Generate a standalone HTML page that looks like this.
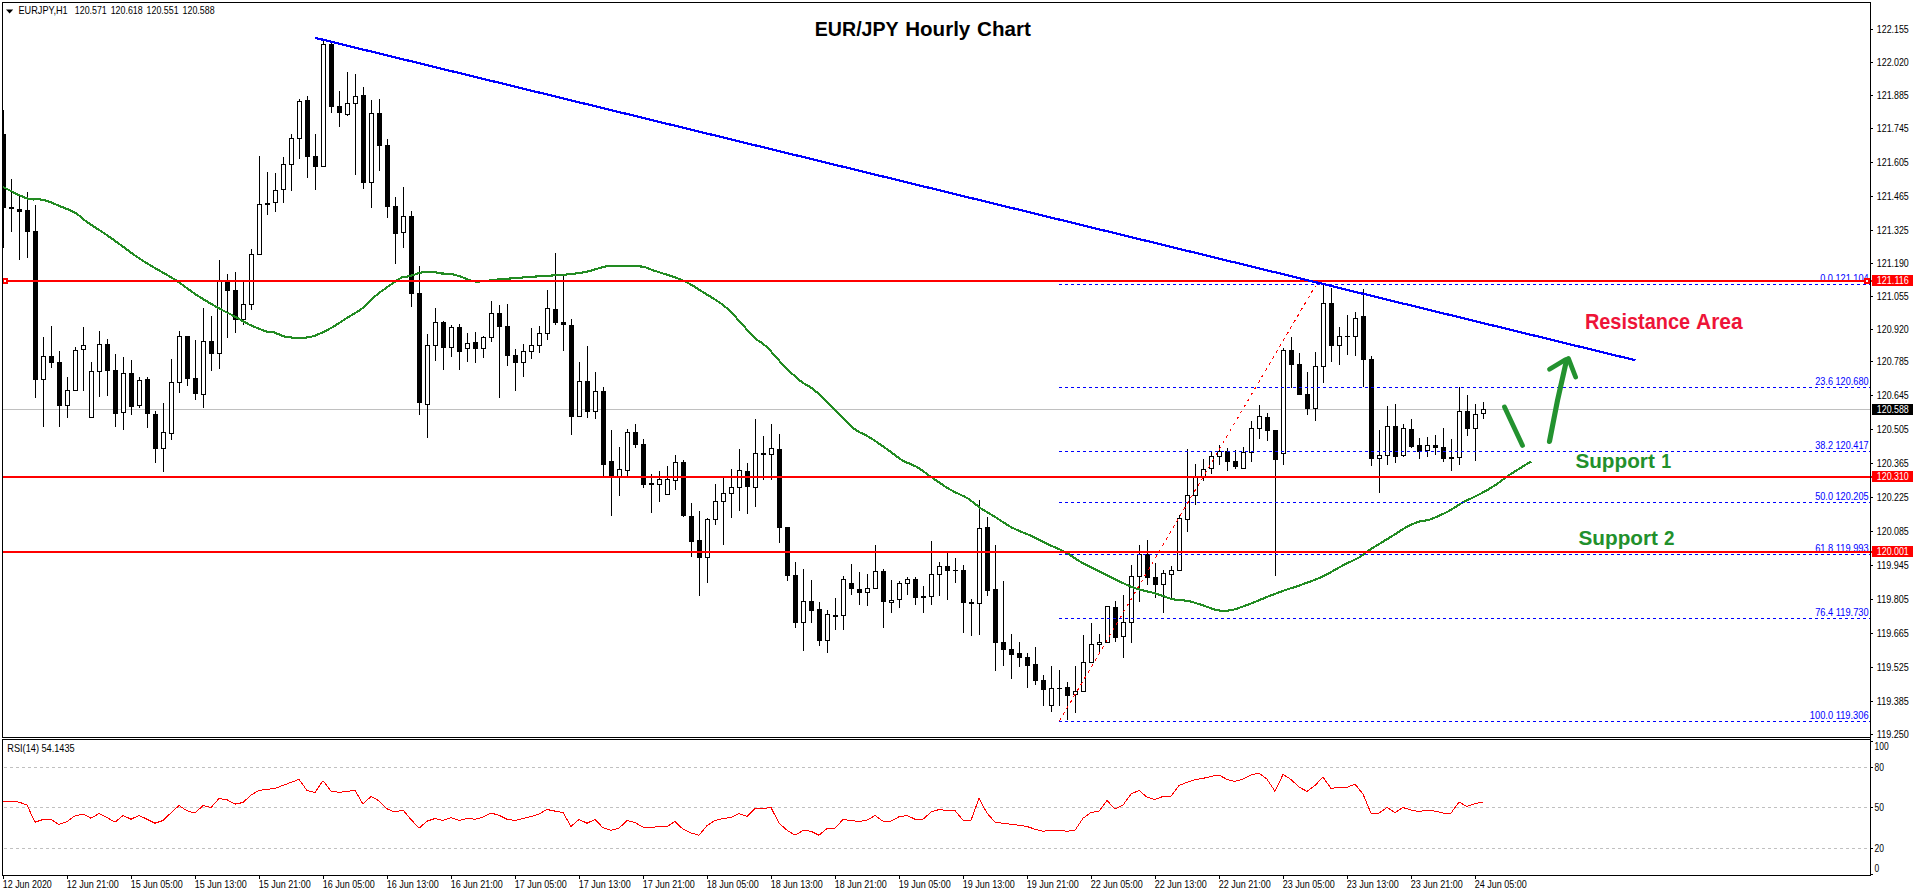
<!DOCTYPE html><html><head><meta charset="utf-8"><title>EUR/JPY Hourly Chart</title>
<style>html,body{margin:0;padding:0;background:#fff;}body{width:1916px;height:896px;overflow:hidden;}svg{display:block;}text{font-family:"Liberation Sans",sans-serif;}</style></head><body>
<svg width="1916" height="896" viewBox="0 0 1916 896">
<rect x="0" y="0" width="1916" height="896" fill="#fff"/>
<clipPath id="cp"><rect x="3" y="3" width="1867" height="734"/></clipPath>
<rect x="3" y="409" width="1867" height="1" fill="#c0c0c0" shape-rendering="crispEdges"/>
<g shape-rendering="crispEdges" clip-path="url(#cp)">
<rect x="3" y="110" width="1" height="138" fill="#000"/>
<rect x="1" y="134" width="5" height="74" fill="#000"/>
<rect x="11" y="179" width="1" height="53" fill="#000"/>
<rect x="9" y="207" width="5" height="2" fill="#000"/>
<rect x="19" y="195" width="1" height="65" fill="#000"/>
<rect x="17" y="209" width="5" height="3" fill="#000"/>
<rect x="27" y="192" width="1" height="66" fill="#000"/>
<rect x="25" y="210" width="5" height="22" fill="#000"/>
<rect x="35" y="205" width="1" height="193" fill="#000"/>
<rect x="33" y="231" width="5" height="149" fill="#000"/>
<rect x="43" y="337" width="1" height="90" fill="#000"/>
<rect x="41" y="356" width="5" height="24" fill="#000"/>
<rect x="42" y="357" width="3" height="22" fill="#fff"/>
<rect x="51" y="326" width="1" height="42" fill="#000"/>
<rect x="49" y="356" width="5" height="7" fill="#000"/>
<rect x="59" y="351" width="1" height="76" fill="#000"/>
<rect x="57" y="362" width="5" height="44" fill="#000"/>
<rect x="67" y="377" width="1" height="41" fill="#000"/>
<rect x="65" y="390" width="5" height="16" fill="#000"/>
<rect x="66" y="391" width="3" height="14" fill="#fff"/>
<rect x="75" y="347" width="1" height="44" fill="#000"/>
<rect x="73" y="350" width="5" height="41" fill="#000"/>
<rect x="74" y="351" width="3" height="39" fill="#fff"/>
<rect x="83" y="327" width="1" height="64" fill="#000"/>
<rect x="81" y="345" width="5" height="5" fill="#000"/>
<rect x="82" y="346" width="3" height="3" fill="#fff"/>
<rect x="91" y="362" width="1" height="56" fill="#000"/>
<rect x="89" y="371" width="5" height="47" fill="#000"/>
<rect x="90" y="372" width="3" height="45" fill="#fff"/>
<rect x="99" y="331" width="1" height="66" fill="#000"/>
<rect x="97" y="344" width="5" height="28" fill="#000"/>
<rect x="98" y="345" width="3" height="26" fill="#fff"/>
<rect x="107" y="339" width="1" height="57" fill="#000"/>
<rect x="105" y="344" width="5" height="27" fill="#000"/>
<rect x="115" y="354" width="1" height="73" fill="#000"/>
<rect x="113" y="370" width="5" height="44" fill="#000"/>
<rect x="123" y="357" width="1" height="73" fill="#000"/>
<rect x="121" y="373" width="5" height="40" fill="#000"/>
<rect x="122" y="374" width="3" height="38" fill="#fff"/>
<rect x="131" y="360" width="1" height="55" fill="#000"/>
<rect x="129" y="373" width="5" height="34" fill="#000"/>
<rect x="139" y="377" width="1" height="31" fill="#000"/>
<rect x="137" y="380" width="5" height="26" fill="#000"/>
<rect x="138" y="381" width="3" height="24" fill="#fff"/>
<rect x="147" y="377" width="1" height="51" fill="#000"/>
<rect x="145" y="379" width="5" height="35" fill="#000"/>
<rect x="155" y="411" width="1" height="52" fill="#000"/>
<rect x="153" y="414" width="5" height="35" fill="#000"/>
<rect x="163" y="403" width="1" height="69" fill="#000"/>
<rect x="161" y="432" width="5" height="17" fill="#000"/>
<rect x="162" y="433" width="3" height="15" fill="#fff"/>
<rect x="171" y="359" width="1" height="81" fill="#000"/>
<rect x="169" y="382" width="5" height="52" fill="#000"/>
<rect x="170" y="383" width="3" height="50" fill="#fff"/>
<rect x="179" y="331" width="1" height="62" fill="#000"/>
<rect x="177" y="336" width="5" height="47" fill="#000"/>
<rect x="178" y="337" width="3" height="45" fill="#fff"/>
<rect x="187" y="336" width="1" height="50" fill="#000"/>
<rect x="185" y="336" width="5" height="43" fill="#000"/>
<rect x="195" y="340" width="1" height="60" fill="#000"/>
<rect x="193" y="378" width="5" height="16" fill="#000"/>
<rect x="203" y="308" width="1" height="100" fill="#000"/>
<rect x="201" y="341" width="5" height="54" fill="#000"/>
<rect x="202" y="342" width="3" height="52" fill="#fff"/>
<rect x="211" y="316" width="1" height="55" fill="#000"/>
<rect x="209" y="341" width="5" height="13" fill="#000"/>
<rect x="219" y="260" width="1" height="109" fill="#000"/>
<rect x="217" y="281" width="5" height="73" fill="#000"/>
<rect x="218" y="282" width="3" height="71" fill="#fff"/>
<rect x="227" y="274" width="1" height="64" fill="#000"/>
<rect x="225" y="281" width="5" height="10" fill="#000"/>
<rect x="235" y="272" width="1" height="61" fill="#000"/>
<rect x="233" y="290" width="5" height="30" fill="#000"/>
<rect x="243" y="281" width="1" height="44" fill="#000"/>
<rect x="241" y="304" width="5" height="16" fill="#000"/>
<rect x="242" y="305" width="3" height="14" fill="#fff"/>
<rect x="251" y="249" width="1" height="61" fill="#000"/>
<rect x="249" y="254" width="5" height="51" fill="#000"/>
<rect x="250" y="255" width="3" height="49" fill="#fff"/>
<rect x="259" y="156" width="1" height="99" fill="#000"/>
<rect x="257" y="204" width="5" height="51" fill="#000"/>
<rect x="258" y="205" width="3" height="49" fill="#fff"/>
<rect x="267" y="172" width="1" height="43" fill="#000"/>
<rect x="265" y="203" width="5" height="2" fill="#000"/>
<rect x="275" y="173" width="1" height="39" fill="#000"/>
<rect x="273" y="190" width="5" height="13" fill="#000"/>
<rect x="274" y="191" width="3" height="11" fill="#fff"/>
<rect x="283" y="157" width="1" height="46" fill="#000"/>
<rect x="281" y="164" width="5" height="26" fill="#000"/>
<rect x="282" y="165" width="3" height="24" fill="#fff"/>
<rect x="291" y="134" width="1" height="57" fill="#000"/>
<rect x="289" y="138" width="5" height="27" fill="#000"/>
<rect x="290" y="139" width="3" height="25" fill="#fff"/>
<rect x="299" y="99" width="1" height="60" fill="#000"/>
<rect x="297" y="101" width="5" height="38" fill="#000"/>
<rect x="298" y="102" width="3" height="36" fill="#fff"/>
<rect x="307" y="96" width="1" height="82" fill="#000"/>
<rect x="305" y="100" width="5" height="57" fill="#000"/>
<rect x="315" y="134" width="1" height="56" fill="#000"/>
<rect x="313" y="156" width="5" height="11" fill="#000"/>
<rect x="323" y="40" width="1" height="127" fill="#000"/>
<rect x="321" y="44" width="5" height="123" fill="#000"/>
<rect x="322" y="45" width="3" height="121" fill="#fff"/>
<rect x="331" y="42" width="1" height="71" fill="#000"/>
<rect x="329" y="44" width="5" height="63" fill="#000"/>
<rect x="339" y="91" width="1" height="36" fill="#000"/>
<rect x="337" y="106" width="5" height="7" fill="#000"/>
<rect x="347" y="72" width="1" height="44" fill="#000"/>
<rect x="345" y="103" width="5" height="12" fill="#000"/>
<rect x="346" y="104" width="3" height="10" fill="#fff"/>
<rect x="355" y="74" width="1" height="101" fill="#000"/>
<rect x="353" y="96" width="5" height="8" fill="#000"/>
<rect x="354" y="97" width="3" height="6" fill="#fff"/>
<rect x="363" y="87" width="1" height="102" fill="#000"/>
<rect x="361" y="95" width="5" height="88" fill="#000"/>
<rect x="371" y="100" width="1" height="108" fill="#000"/>
<rect x="369" y="113" width="5" height="70" fill="#000"/>
<rect x="370" y="114" width="3" height="68" fill="#fff"/>
<rect x="379" y="99" width="1" height="72" fill="#000"/>
<rect x="377" y="113" width="5" height="33" fill="#000"/>
<rect x="387" y="139" width="1" height="79" fill="#000"/>
<rect x="385" y="145" width="5" height="62" fill="#000"/>
<rect x="395" y="197" width="1" height="67" fill="#000"/>
<rect x="393" y="206" width="5" height="28" fill="#000"/>
<rect x="403" y="187" width="1" height="61" fill="#000"/>
<rect x="401" y="216" width="5" height="17" fill="#000"/>
<rect x="402" y="217" width="3" height="15" fill="#fff"/>
<rect x="411" y="211" width="1" height="96" fill="#000"/>
<rect x="409" y="216" width="5" height="78" fill="#000"/>
<rect x="419" y="266" width="1" height="149" fill="#000"/>
<rect x="417" y="293" width="5" height="110" fill="#000"/>
<rect x="427" y="334" width="1" height="104" fill="#000"/>
<rect x="425" y="345" width="5" height="60" fill="#000"/>
<rect x="426" y="346" width="3" height="58" fill="#fff"/>
<rect x="435" y="308" width="1" height="53" fill="#000"/>
<rect x="433" y="322" width="5" height="24" fill="#000"/>
<rect x="434" y="323" width="3" height="22" fill="#fff"/>
<rect x="443" y="321" width="1" height="49" fill="#000"/>
<rect x="441" y="322" width="5" height="26" fill="#000"/>
<rect x="451" y="325" width="1" height="32" fill="#000"/>
<rect x="449" y="327" width="5" height="21" fill="#000"/>
<rect x="450" y="328" width="3" height="19" fill="#fff"/>
<rect x="459" y="324" width="1" height="46" fill="#000"/>
<rect x="457" y="327" width="5" height="25" fill="#000"/>
<rect x="467" y="333" width="1" height="29" fill="#000"/>
<rect x="465" y="343" width="5" height="6" fill="#000"/>
<rect x="466" y="344" width="3" height="4" fill="#fff"/>
<rect x="475" y="332" width="1" height="31" fill="#000"/>
<rect x="473" y="342" width="5" height="7" fill="#000"/>
<rect x="483" y="336" width="1" height="22" fill="#000"/>
<rect x="481" y="337" width="5" height="12" fill="#000"/>
<rect x="482" y="338" width="3" height="10" fill="#fff"/>
<rect x="491" y="301" width="1" height="41" fill="#000"/>
<rect x="489" y="313" width="5" height="25" fill="#000"/>
<rect x="490" y="314" width="3" height="23" fill="#fff"/>
<rect x="499" y="305" width="1" height="93" fill="#000"/>
<rect x="497" y="313" width="5" height="14" fill="#000"/>
<rect x="507" y="304" width="1" height="62" fill="#000"/>
<rect x="505" y="326" width="5" height="30" fill="#000"/>
<rect x="515" y="349" width="1" height="42" fill="#000"/>
<rect x="513" y="355" width="5" height="8" fill="#000"/>
<rect x="523" y="344" width="1" height="33" fill="#000"/>
<rect x="521" y="351" width="5" height="12" fill="#000"/>
<rect x="522" y="352" width="3" height="10" fill="#fff"/>
<rect x="531" y="328" width="1" height="31" fill="#000"/>
<rect x="529" y="345" width="5" height="7" fill="#000"/>
<rect x="530" y="346" width="3" height="5" fill="#fff"/>
<rect x="539" y="326" width="1" height="27" fill="#000"/>
<rect x="537" y="333" width="5" height="13" fill="#000"/>
<rect x="538" y="334" width="3" height="11" fill="#fff"/>
<rect x="547" y="290" width="1" height="50" fill="#000"/>
<rect x="545" y="308" width="5" height="26" fill="#000"/>
<rect x="546" y="309" width="3" height="24" fill="#fff"/>
<rect x="555" y="253" width="1" height="72" fill="#000"/>
<rect x="553" y="309" width="5" height="14" fill="#000"/>
<rect x="563" y="276" width="1" height="75" fill="#000"/>
<rect x="561" y="322" width="5" height="3" fill="#000"/>
<rect x="571" y="319" width="1" height="116" fill="#000"/>
<rect x="569" y="325" width="5" height="92" fill="#000"/>
<rect x="579" y="362" width="1" height="55" fill="#000"/>
<rect x="577" y="381" width="5" height="36" fill="#000"/>
<rect x="578" y="382" width="3" height="34" fill="#fff"/>
<rect x="587" y="346" width="1" height="72" fill="#000"/>
<rect x="585" y="381" width="5" height="31" fill="#000"/>
<rect x="595" y="372" width="1" height="47" fill="#000"/>
<rect x="593" y="391" width="5" height="21" fill="#000"/>
<rect x="594" y="392" width="3" height="19" fill="#fff"/>
<rect x="603" y="387" width="1" height="91" fill="#000"/>
<rect x="601" y="391" width="5" height="74" fill="#000"/>
<rect x="611" y="430" width="1" height="86" fill="#000"/>
<rect x="609" y="461" width="5" height="16" fill="#000"/>
<rect x="619" y="447" width="1" height="49" fill="#000"/>
<rect x="617" y="469" width="5" height="8" fill="#000"/>
<rect x="618" y="470" width="3" height="6" fill="#fff"/>
<rect x="627" y="429" width="1" height="48" fill="#000"/>
<rect x="625" y="432" width="5" height="39" fill="#000"/>
<rect x="626" y="433" width="3" height="37" fill="#fff"/>
<rect x="635" y="424" width="1" height="24" fill="#000"/>
<rect x="633" y="432" width="5" height="13" fill="#000"/>
<rect x="643" y="439" width="1" height="49" fill="#000"/>
<rect x="641" y="444" width="5" height="41" fill="#000"/>
<rect x="651" y="474" width="1" height="39" fill="#000"/>
<rect x="649" y="483" width="5" height="2" fill="#000"/>
<rect x="659" y="471" width="1" height="31" fill="#000"/>
<rect x="657" y="479" width="5" height="6" fill="#000"/>
<rect x="658" y="480" width="3" height="4" fill="#fff"/>
<rect x="667" y="466" width="1" height="29" fill="#000"/>
<rect x="665" y="479" width="5" height="16" fill="#000"/>
<rect x="666" y="480" width="3" height="14" fill="#fff"/>
<rect x="675" y="455" width="1" height="35" fill="#000"/>
<rect x="673" y="462" width="5" height="19" fill="#000"/>
<rect x="674" y="463" width="3" height="17" fill="#fff"/>
<rect x="683" y="460" width="1" height="57" fill="#000"/>
<rect x="681" y="462" width="5" height="54" fill="#000"/>
<rect x="691" y="503" width="1" height="54" fill="#000"/>
<rect x="689" y="516" width="5" height="26" fill="#000"/>
<rect x="699" y="511" width="1" height="85" fill="#000"/>
<rect x="697" y="540" width="5" height="18" fill="#000"/>
<rect x="707" y="518" width="1" height="65" fill="#000"/>
<rect x="705" y="519" width="5" height="39" fill="#000"/>
<rect x="706" y="520" width="3" height="37" fill="#fff"/>
<rect x="715" y="484" width="1" height="41" fill="#000"/>
<rect x="713" y="501" width="5" height="19" fill="#000"/>
<rect x="714" y="502" width="3" height="17" fill="#fff"/>
<rect x="723" y="477" width="1" height="68" fill="#000"/>
<rect x="721" y="493" width="5" height="9" fill="#000"/>
<rect x="722" y="494" width="3" height="7" fill="#fff"/>
<rect x="731" y="469" width="1" height="49" fill="#000"/>
<rect x="729" y="487" width="5" height="7" fill="#000"/>
<rect x="730" y="488" width="3" height="5" fill="#fff"/>
<rect x="739" y="449" width="1" height="62" fill="#000"/>
<rect x="737" y="470" width="5" height="18" fill="#000"/>
<rect x="738" y="471" width="3" height="16" fill="#fff"/>
<rect x="747" y="463" width="1" height="51" fill="#000"/>
<rect x="745" y="471" width="5" height="16" fill="#000"/>
<rect x="755" y="419" width="1" height="88" fill="#000"/>
<rect x="753" y="453" width="5" height="35" fill="#000"/>
<rect x="754" y="454" width="3" height="33" fill="#fff"/>
<rect x="763" y="436" width="1" height="44" fill="#000"/>
<rect x="761" y="453" width="5" height="2" fill="#000"/>
<rect x="771" y="424" width="1" height="56" fill="#000"/>
<rect x="769" y="448" width="5" height="7" fill="#000"/>
<rect x="770" y="449" width="3" height="5" fill="#fff"/>
<rect x="779" y="434" width="1" height="109" fill="#000"/>
<rect x="777" y="449" width="5" height="79" fill="#000"/>
<rect x="787" y="527" width="1" height="54" fill="#000"/>
<rect x="785" y="527" width="5" height="49" fill="#000"/>
<rect x="795" y="562" width="1" height="66" fill="#000"/>
<rect x="793" y="575" width="5" height="48" fill="#000"/>
<rect x="803" y="569" width="1" height="82" fill="#000"/>
<rect x="801" y="601" width="5" height="22" fill="#000"/>
<rect x="802" y="602" width="3" height="20" fill="#fff"/>
<rect x="811" y="580" width="1" height="43" fill="#000"/>
<rect x="809" y="601" width="5" height="10" fill="#000"/>
<rect x="819" y="602" width="1" height="44" fill="#000"/>
<rect x="817" y="609" width="5" height="32" fill="#000"/>
<rect x="827" y="610" width="1" height="43" fill="#000"/>
<rect x="825" y="614" width="5" height="27" fill="#000"/>
<rect x="826" y="615" width="3" height="25" fill="#fff"/>
<rect x="835" y="598" width="1" height="32" fill="#000"/>
<rect x="833" y="615" width="5" height="2" fill="#000"/>
<rect x="843" y="576" width="1" height="54" fill="#000"/>
<rect x="841" y="579" width="5" height="37" fill="#000"/>
<rect x="842" y="580" width="3" height="35" fill="#fff"/>
<rect x="851" y="564" width="1" height="31" fill="#000"/>
<rect x="849" y="583" width="5" height="6" fill="#000"/>
<rect x="859" y="572" width="1" height="33" fill="#000"/>
<rect x="857" y="589" width="5" height="4" fill="#000"/>
<rect x="867" y="574" width="1" height="32" fill="#000"/>
<rect x="865" y="588" width="5" height="5" fill="#000"/>
<rect x="866" y="589" width="3" height="3" fill="#fff"/>
<rect x="875" y="545" width="1" height="44" fill="#000"/>
<rect x="873" y="571" width="5" height="18" fill="#000"/>
<rect x="874" y="572" width="3" height="16" fill="#fff"/>
<rect x="883" y="569" width="1" height="59" fill="#000"/>
<rect x="881" y="571" width="5" height="31" fill="#000"/>
<rect x="891" y="580" width="1" height="33" fill="#000"/>
<rect x="889" y="600" width="5" height="3" fill="#000"/>
<rect x="890" y="601" width="3" height="1" fill="#fff"/>
<rect x="899" y="581" width="1" height="27" fill="#000"/>
<rect x="897" y="583" width="5" height="17" fill="#000"/>
<rect x="898" y="584" width="3" height="15" fill="#fff"/>
<rect x="907" y="577" width="1" height="18" fill="#000"/>
<rect x="905" y="579" width="5" height="5" fill="#000"/>
<rect x="906" y="580" width="3" height="3" fill="#fff"/>
<rect x="915" y="577" width="1" height="28" fill="#000"/>
<rect x="913" y="579" width="5" height="19" fill="#000"/>
<rect x="923" y="586" width="1" height="27" fill="#000"/>
<rect x="921" y="596" width="5" height="2" fill="#000"/>
<rect x="931" y="541" width="1" height="64" fill="#000"/>
<rect x="929" y="574" width="5" height="23" fill="#000"/>
<rect x="930" y="575" width="3" height="21" fill="#fff"/>
<rect x="939" y="562" width="1" height="34" fill="#000"/>
<rect x="937" y="566" width="5" height="9" fill="#000"/>
<rect x="938" y="567" width="3" height="7" fill="#fff"/>
<rect x="947" y="553" width="1" height="47" fill="#000"/>
<rect x="945" y="566" width="5" height="5" fill="#000"/>
<rect x="955" y="558" width="1" height="25" fill="#000"/>
<rect x="953" y="570" width="5" height="1" fill="#000"/>
<rect x="963" y="565" width="1" height="68" fill="#000"/>
<rect x="961" y="570" width="5" height="33" fill="#000"/>
<rect x="971" y="599" width="1" height="37" fill="#000"/>
<rect x="969" y="602" width="5" height="2" fill="#000"/>
<rect x="979" y="500" width="1" height="135" fill="#000"/>
<rect x="977" y="528" width="5" height="76" fill="#000"/>
<rect x="978" y="529" width="3" height="74" fill="#fff"/>
<rect x="987" y="517" width="1" height="79" fill="#000"/>
<rect x="985" y="527" width="5" height="64" fill="#000"/>
<rect x="995" y="545" width="1" height="126" fill="#000"/>
<rect x="993" y="589" width="5" height="54" fill="#000"/>
<rect x="1003" y="581" width="1" height="85" fill="#000"/>
<rect x="1001" y="642" width="5" height="8" fill="#000"/>
<rect x="1011" y="634" width="1" height="45" fill="#000"/>
<rect x="1009" y="649" width="5" height="6" fill="#000"/>
<rect x="1019" y="642" width="1" height="25" fill="#000"/>
<rect x="1017" y="653" width="5" height="5" fill="#000"/>
<rect x="1027" y="653" width="1" height="35" fill="#000"/>
<rect x="1025" y="657" width="5" height="9" fill="#000"/>
<rect x="1035" y="647" width="1" height="38" fill="#000"/>
<rect x="1033" y="664" width="5" height="17" fill="#000"/>
<rect x="1043" y="675" width="1" height="31" fill="#000"/>
<rect x="1041" y="680" width="5" height="10" fill="#000"/>
<rect x="1051" y="666" width="1" height="46" fill="#000"/>
<rect x="1049" y="688" width="5" height="18" fill="#000"/>
<rect x="1050" y="689" width="3" height="16" fill="#fff"/>
<rect x="1059" y="670" width="1" height="36" fill="#000"/>
<rect x="1057" y="688" width="5" height="1" fill="#000"/>
<rect x="1067" y="682" width="1" height="38" fill="#000"/>
<rect x="1065" y="687" width="5" height="9" fill="#000"/>
<rect x="1075" y="666" width="1" height="47" fill="#000"/>
<rect x="1073" y="691" width="5" height="4" fill="#000"/>
<rect x="1074" y="692" width="3" height="2" fill="#fff"/>
<rect x="1083" y="635" width="1" height="57" fill="#000"/>
<rect x="1081" y="662" width="5" height="30" fill="#000"/>
<rect x="1082" y="663" width="3" height="28" fill="#fff"/>
<rect x="1091" y="623" width="1" height="40" fill="#000"/>
<rect x="1089" y="644" width="5" height="19" fill="#000"/>
<rect x="1090" y="645" width="3" height="17" fill="#fff"/>
<rect x="1099" y="634" width="1" height="19" fill="#000"/>
<rect x="1097" y="642" width="5" height="3" fill="#000"/>
<rect x="1098" y="643" width="3" height="1" fill="#fff"/>
<rect x="1107" y="606" width="1" height="37" fill="#000"/>
<rect x="1105" y="606" width="5" height="37" fill="#000"/>
<rect x="1106" y="607" width="3" height="35" fill="#fff"/>
<rect x="1115" y="601" width="1" height="41" fill="#000"/>
<rect x="1113" y="607" width="5" height="31" fill="#000"/>
<rect x="1123" y="595" width="1" height="63" fill="#000"/>
<rect x="1121" y="622" width="5" height="15" fill="#000"/>
<rect x="1122" y="623" width="3" height="13" fill="#fff"/>
<rect x="1131" y="565" width="1" height="78" fill="#000"/>
<rect x="1129" y="576" width="5" height="47" fill="#000"/>
<rect x="1130" y="577" width="3" height="45" fill="#fff"/>
<rect x="1139" y="545" width="1" height="57" fill="#000"/>
<rect x="1137" y="554" width="5" height="23" fill="#000"/>
<rect x="1138" y="555" width="3" height="21" fill="#fff"/>
<rect x="1147" y="540" width="1" height="45" fill="#000"/>
<rect x="1145" y="554" width="5" height="24" fill="#000"/>
<rect x="1155" y="563" width="1" height="35" fill="#000"/>
<rect x="1153" y="577" width="5" height="8" fill="#000"/>
<rect x="1163" y="570" width="1" height="43" fill="#000"/>
<rect x="1161" y="573" width="5" height="12" fill="#000"/>
<rect x="1162" y="574" width="3" height="10" fill="#fff"/>
<rect x="1171" y="566" width="1" height="32" fill="#000"/>
<rect x="1169" y="570" width="5" height="5" fill="#000"/>
<rect x="1170" y="571" width="3" height="3" fill="#fff"/>
<rect x="1179" y="515" width="1" height="56" fill="#000"/>
<rect x="1177" y="518" width="5" height="53" fill="#000"/>
<rect x="1178" y="519" width="3" height="51" fill="#fff"/>
<rect x="1187" y="449" width="1" height="83" fill="#000"/>
<rect x="1185" y="495" width="5" height="25" fill="#000"/>
<rect x="1186" y="496" width="3" height="23" fill="#fff"/>
<rect x="1195" y="464" width="1" height="41" fill="#000"/>
<rect x="1193" y="476" width="5" height="20" fill="#000"/>
<rect x="1194" y="477" width="3" height="18" fill="#fff"/>
<rect x="1203" y="459" width="1" height="22" fill="#000"/>
<rect x="1201" y="469" width="5" height="8" fill="#000"/>
<rect x="1202" y="470" width="3" height="6" fill="#fff"/>
<rect x="1211" y="451" width="1" height="23" fill="#000"/>
<rect x="1209" y="456" width="5" height="13" fill="#000"/>
<rect x="1210" y="457" width="3" height="11" fill="#fff"/>
<rect x="1219" y="445" width="1" height="20" fill="#000"/>
<rect x="1217" y="451" width="5" height="6" fill="#000"/>
<rect x="1218" y="452" width="3" height="4" fill="#fff"/>
<rect x="1227" y="448" width="1" height="23" fill="#000"/>
<rect x="1225" y="451" width="5" height="11" fill="#000"/>
<rect x="1235" y="450" width="1" height="19" fill="#000"/>
<rect x="1233" y="461" width="5" height="6" fill="#000"/>
<rect x="1243" y="447" width="1" height="22" fill="#000"/>
<rect x="1241" y="452" width="5" height="17" fill="#000"/>
<rect x="1242" y="453" width="3" height="15" fill="#fff"/>
<rect x="1251" y="421" width="1" height="41" fill="#000"/>
<rect x="1249" y="428" width="5" height="25" fill="#000"/>
<rect x="1250" y="429" width="3" height="23" fill="#fff"/>
<rect x="1259" y="405" width="1" height="34" fill="#000"/>
<rect x="1257" y="416" width="5" height="13" fill="#000"/>
<rect x="1258" y="417" width="3" height="11" fill="#fff"/>
<rect x="1267" y="413" width="1" height="28" fill="#000"/>
<rect x="1265" y="417" width="5" height="14" fill="#000"/>
<rect x="1275" y="430" width="1" height="146" fill="#000"/>
<rect x="1273" y="430" width="5" height="30" fill="#000"/>
<rect x="1283" y="348" width="1" height="117" fill="#000"/>
<rect x="1281" y="350" width="5" height="104" fill="#000"/>
<rect x="1282" y="351" width="3" height="102" fill="#fff"/>
<rect x="1291" y="337" width="1" height="51" fill="#000"/>
<rect x="1289" y="350" width="5" height="15" fill="#000"/>
<rect x="1299" y="353" width="1" height="42" fill="#000"/>
<rect x="1297" y="364" width="5" height="31" fill="#000"/>
<rect x="1307" y="372" width="1" height="43" fill="#000"/>
<rect x="1305" y="394" width="5" height="15" fill="#000"/>
<rect x="1315" y="352" width="1" height="69" fill="#000"/>
<rect x="1313" y="366" width="5" height="43" fill="#000"/>
<rect x="1314" y="367" width="3" height="41" fill="#fff"/>
<rect x="1323" y="285" width="1" height="98" fill="#000"/>
<rect x="1321" y="303" width="5" height="64" fill="#000"/>
<rect x="1322" y="304" width="3" height="62" fill="#fff"/>
<rect x="1331" y="288" width="1" height="74" fill="#000"/>
<rect x="1329" y="303" width="5" height="43" fill="#000"/>
<rect x="1339" y="327" width="1" height="38" fill="#000"/>
<rect x="1337" y="336" width="5" height="10" fill="#000"/>
<rect x="1338" y="337" width="3" height="8" fill="#fff"/>
<rect x="1347" y="315" width="1" height="40" fill="#000"/>
<rect x="1345" y="336" width="5" height="1" fill="#000"/>
<rect x="1355" y="312" width="1" height="44" fill="#000"/>
<rect x="1353" y="318" width="5" height="19" fill="#000"/>
<rect x="1354" y="319" width="3" height="17" fill="#fff"/>
<rect x="1363" y="289" width="1" height="98" fill="#000"/>
<rect x="1361" y="316" width="5" height="44" fill="#000"/>
<rect x="1371" y="356" width="1" height="110" fill="#000"/>
<rect x="1369" y="359" width="5" height="100" fill="#000"/>
<rect x="1379" y="430" width="1" height="63" fill="#000"/>
<rect x="1377" y="455" width="5" height="4" fill="#000"/>
<rect x="1378" y="456" width="3" height="2" fill="#fff"/>
<rect x="1387" y="406" width="1" height="59" fill="#000"/>
<rect x="1385" y="426" width="5" height="30" fill="#000"/>
<rect x="1386" y="427" width="3" height="28" fill="#fff"/>
<rect x="1395" y="404" width="1" height="59" fill="#000"/>
<rect x="1393" y="426" width="5" height="31" fill="#000"/>
<rect x="1403" y="424" width="1" height="33" fill="#000"/>
<rect x="1401" y="428" width="5" height="28" fill="#000"/>
<rect x="1402" y="429" width="3" height="26" fill="#fff"/>
<rect x="1411" y="419" width="1" height="29" fill="#000"/>
<rect x="1409" y="429" width="5" height="18" fill="#000"/>
<rect x="1419" y="438" width="1" height="21" fill="#000"/>
<rect x="1417" y="445" width="5" height="7" fill="#000"/>
<rect x="1427" y="437" width="1" height="20" fill="#000"/>
<rect x="1425" y="445" width="5" height="6" fill="#000"/>
<rect x="1426" y="446" width="3" height="4" fill="#fff"/>
<rect x="1435" y="435" width="1" height="20" fill="#000"/>
<rect x="1433" y="445" width="5" height="3" fill="#000"/>
<rect x="1443" y="428" width="1" height="34" fill="#000"/>
<rect x="1441" y="447" width="5" height="12" fill="#000"/>
<rect x="1451" y="439" width="1" height="32" fill="#000"/>
<rect x="1449" y="457" width="5" height="2" fill="#000"/>
<rect x="1459" y="387" width="1" height="78" fill="#000"/>
<rect x="1457" y="411" width="5" height="47" fill="#000"/>
<rect x="1458" y="412" width="3" height="45" fill="#fff"/>
<rect x="1467" y="395" width="1" height="41" fill="#000"/>
<rect x="1465" y="411" width="5" height="18" fill="#000"/>
<rect x="1475" y="404" width="1" height="57" fill="#000"/>
<rect x="1473" y="414" width="5" height="15" fill="#000"/>
<rect x="1474" y="415" width="3" height="13" fill="#fff"/>
<rect x="1483" y="402" width="1" height="17" fill="#000"/>
<rect x="1481" y="409" width="5" height="5" fill="#000"/>
<rect x="1482" y="410" width="3" height="3" fill="#fff"/>
</g>
<polyline points="3.0,187.0 5.8,188.4 9.7,190.4 14.2,192.7 19.0,195.1 23.6,197.1 27.4,198.6 33.2,199.5 38.0,199.3 43.0,199.7 47.2,200.9 51.5,202.6 55.8,204.4 60.0,206.2 65.5,208.4 70.9,210.6 75.7,213.0 80.4,216.6 86.0,221.3 89.8,223.9 94.2,226.8 99.1,229.9 104.3,233.4 109.6,237.0 113.6,239.8 117.9,243.0 122.4,246.2 126.9,249.6 131.3,252.8 135.6,255.9 139.6,258.6 144.8,262.0 149.9,265.0 154.6,267.8 159.0,270.4 163.0,272.7 168.4,275.8 172.7,278.3 177.5,281.3 181.7,284.3 186.2,287.6 190.9,291.1 195.7,294.4 199.7,297.0 204.0,299.6 208.3,302.2 212.5,304.7 216.6,307.0 221.4,309.6 226.1,312.1 230.6,314.3 234.9,316.6 240.2,319.6 245.2,322.5 250.5,325.2 255.2,327.2 260.3,329.2 265.1,331.0 268.8,332.2 274.0,332.4 278.9,334.4 284.4,336.5 289.6,337.4 294.9,337.7 300.1,337.9 305.3,337.7 310.2,337.0 315.8,335.4 320.6,333.3 326.0,330.7 331.4,327.8 336.6,324.7 341.8,321.3 347.0,317.9 352.3,314.7 357.7,311.5 362.7,308.0 367.3,304.0 371.5,299.7 375.8,295.7 380.1,292.2 384.5,289.1 388.8,286.0 393.4,282.8 397.9,279.7 401.9,277.4 409.7,276.1 413.8,274.9 418.4,273.3 422.8,272.2 428.3,271.6 433.2,271.7 441.0,273.5 445.9,273.6 451.5,274.0 455.8,275.1 460.5,276.6 464.5,278.0 472.3,281.3 477.4,281.6 482.8,281.3 487.2,280.8 493.2,280.0 497.0,279.6 501.4,279.2 506.3,278.8 511.3,278.4 516.2,278.0 520.2,277.7 524.2,277.4 528.2,277.1 532.2,276.8 536.3,276.5 540.3,276.2 544.4,275.9 548.4,275.7 552.5,275.5 556.6,275.3 560.6,275.0 564.4,274.7 569.0,274.2 573.5,273.7 577.9,273.2 581.9,272.6 585.5,272.0 590.2,270.9 593.8,269.8 597.5,268.7 601.5,267.5 605.6,266.4 609.6,265.7 613.3,265.6 616.9,266.0 621.6,266.3 625.4,266.3 630.0,266.3 634.7,266.3 639.1,266.4 642.7,266.6 647.6,268.0 651.7,269.9 656.2,271.3 661.3,272.9 666.8,274.7 671.1,276.1 675.7,277.6 680.3,279.3 684.9,281.3 689.4,283.7 693.8,286.3 698.3,289.2 703.0,292.2 707.1,294.7 711.5,297.3 715.9,300.1 720.1,302.9 724.0,305.7 729.5,310.6 734.3,315.6 739.1,320.8 744.2,326.5 749.4,332.4 754.2,337.4 758.3,340.7 762.1,343.1 766.2,346.4 770.9,351.3 775.9,357.1 781.3,363.0 785.7,367.4 790.4,372.0 795.0,376.4 799.4,380.2 804.5,383.8 809.3,386.5 814.4,390.1 818.6,393.9 823.1,398.2 827.7,402.8 832.5,407.6 836.6,411.7 841.0,416.3 845.4,420.8 849.7,425.0 853.6,428.4 859.0,432.0 863.7,434.2 868.7,436.8 873.1,439.6 877.7,442.7 882.3,445.9 886.7,448.9 891.9,452.8 896.9,456.6 901.8,460.0 906.8,462.5 911.9,464.6 916.9,467.0 921.8,470.2 926.7,473.8 931.9,477.5 936.2,480.5 940.8,483.6 945.4,486.7 950.0,489.5 954.7,492.0 959.4,494.2 964.0,496.4 968.1,498.6 974.3,503.2 980.0,507.8 984.6,510.7 989.4,513.5 994.6,516.6 998.7,519.3 1003.0,522.1 1007.5,525.0 1012.2,527.7 1016.1,529.6 1020.3,531.4 1024.5,533.1 1028.7,534.8 1032.6,536.5 1037.2,538.7 1041.7,541.0 1046.0,543.2 1050.1,545.2 1055.1,547.4 1059.8,549.4 1064.8,551.9 1068.9,554.3 1073.2,557.1 1077.6,560.0 1082.3,562.8 1086.2,564.9 1090.3,566.9 1094.5,569.0 1098.7,571.0 1102.8,573.0 1107.0,575.1 1111.2,577.3 1115.5,579.4 1119.5,581.4 1123.2,583.2 1128.4,585.5 1132.9,587.4 1137.8,589.1 1142.0,590.2 1146.4,591.2 1150.9,592.2 1155.4,593.4 1159.9,594.9 1164.3,596.5 1168.7,598.1 1172.9,599.3 1178.0,600.0 1182.7,600.3 1187.5,600.8 1192.3,602.0 1197.1,603.5 1202.1,605.1 1206.1,606.5 1210.2,608.0 1214.3,609.4 1218.2,610.4 1222.7,610.9 1226.8,610.8 1231.4,610.1 1235.5,609.1 1239.9,607.6 1244.4,606.0 1248.9,604.3 1253.3,602.6 1257.6,600.8 1262.0,599.0 1266.4,597.2 1270.8,595.5 1275.2,593.8 1279.6,592.1 1284.0,590.5 1288.3,589.0 1292.6,587.7 1296.9,586.3 1301.5,584.7 1305.4,583.3 1309.5,581.8 1313.7,580.3 1317.9,578.6 1322.0,576.8 1326.1,574.7 1330.3,572.5 1334.4,570.1 1338.5,567.8 1342.4,565.7 1347.2,563.3 1351.9,561.0 1356.3,558.9 1360.0,556.9 1364.2,553.9 1368.7,550.5 1372.0,548.4 1376.1,545.9 1380.4,543.2 1384.9,540.5 1389.2,537.9 1393.4,535.2 1397.8,532.5 1402.1,529.7 1406.2,527.3 1409.7,525.3 1416.2,522.5 1421.3,521.0 1425.3,520.5 1430.1,519.5 1434.0,518.0 1438.5,516.0 1443.3,513.8 1447.7,511.6 1452.6,508.8 1457.1,505.9 1462.3,502.8 1466.1,500.8 1470.3,498.8 1474.7,496.6 1478.9,494.6 1482.7,492.6 1488.2,489.5 1493.1,486.5 1497.3,483.8 1501.7,480.5 1506.1,477.1 1510.7,474.1 1515.9,470.8 1520.7,467.8 1526.8,464.1 1531.0,461.6" fill="none" stroke="#228b22" stroke-width="2.1" stroke-linejoin="round" clip-path="url(#cp)" shape-rendering="crispEdges"/>
<g shape-rendering="crispEdges">
<line x1="1059" y1="284.5" x2="1870" y2="284.5" stroke="#0000ff" stroke-width="1" stroke-dasharray="3,3"/>
<line x1="1059" y1="387.5" x2="1870" y2="387.5" stroke="#0000ff" stroke-width="1" stroke-dasharray="3,3"/>
<line x1="1059" y1="451.5" x2="1870" y2="451.5" stroke="#0000ff" stroke-width="1" stroke-dasharray="3,3"/>
<line x1="1059" y1="502.5" x2="1870" y2="502.5" stroke="#0000ff" stroke-width="1" stroke-dasharray="3,3"/>
<line x1="1059" y1="554.5" x2="1870" y2="554.5" stroke="#0000ff" stroke-width="1" stroke-dasharray="3,3"/>
<line x1="1059" y1="618.5" x2="1870" y2="618.5" stroke="#0000ff" stroke-width="1" stroke-dasharray="3,3"/>
<line x1="1059" y1="721.5" x2="1870" y2="721.5" stroke="#0000ff" stroke-width="1" stroke-dasharray="3,3"/>
<line x1="1059.5" y1="721" x2="1315.3" y2="286" stroke="#ff0000" stroke-width="1" stroke-dasharray="3,4"/>
</g>
<text x="1820.1999999999998" y="282" font-size="10.2" fill="#0000ff" textLength="48.4" lengthAdjust="spacingAndGlyphs">0.0 121.104</text>
<text x="1815.1999999999998" y="385" font-size="10.2" fill="#0000ff" textLength="53.4" lengthAdjust="spacingAndGlyphs">23.6 120.680</text>
<text x="1815.1999999999998" y="449" font-size="10.2" fill="#0000ff" textLength="53.4" lengthAdjust="spacingAndGlyphs">38.2 120.417</text>
<text x="1815.1999999999998" y="500" font-size="10.2" fill="#0000ff" textLength="53.4" lengthAdjust="spacingAndGlyphs">50.0 120.205</text>
<text x="1815.1999999999998" y="552" font-size="10.2" fill="#0000ff" textLength="53.4" lengthAdjust="spacingAndGlyphs">61.8 119.993</text>
<text x="1815.1999999999998" y="616" font-size="10.2" fill="#0000ff" textLength="53.4" lengthAdjust="spacingAndGlyphs">76.4 119.730</text>
<text x="1809.8" y="719" font-size="10.2" fill="#0000ff" textLength="58.8" lengthAdjust="spacingAndGlyphs">100.0 119.306</text>
<g shape-rendering="crispEdges">
<rect x="3" y="280" width="1869" height="2" fill="#ff0000"/>
<rect x="3" y="476" width="1869" height="2" fill="#ff0000"/>
<rect x="3" y="551" width="1869" height="2" fill="#ff0000"/>
<rect x="2" y="278" width="6" height="6" fill="#ff0000"/><rect x="4" y="280" width="2" height="2" fill="#fff"/>
<rect x="1864" y="278" width="6" height="6" fill="#ff0000"/><rect x="1866" y="280" width="2" height="2" fill="#fff"/>
</g>
<line x1="315" y1="37.8" x2="1635.5" y2="360.3" stroke="#0000ff" stroke-width="2.2" shape-rendering="crispEdges"/>
<g stroke="#23922f" stroke-linecap="round" stroke-linejoin="round" fill="none">
<line x1="1504.5" y1="407" x2="1522.5" y2="445.4" stroke-width="4.8"/>
<path d="M1549.5 441.4 Q1557 400 1566.6 360" stroke-width="5.2"/>
<path d="M1549.5 369.2 L1565.3 359.8" stroke-width="4.8"/>
<path d="M1568.4 358.4 L1575.6 377" stroke-width="4.8"/>
</g>
<g shape-rendering="crispEdges" fill="#000">
<rect x="2" y="2" width="1869" height="1"/>
<rect x="2" y="2" width="1" height="736"/>
<rect x="2" y="737" width="1869" height="1"/>
<rect x="1870" y="2" width="1" height="874"/>
<rect x="2" y="739" width="1869" height="1"/>
<rect x="2" y="739" width="1" height="137"/>
<rect x="2" y="875" width="1869" height="1"/>
<rect x="1871" y="29" width="2" height="1"/>
<rect x="1871" y="62" width="2" height="1"/>
<rect x="1871" y="95" width="2" height="1"/>
<rect x="1871" y="128" width="2" height="1"/>
<rect x="1871" y="162" width="2" height="1"/>
<rect x="1871" y="196" width="2" height="1"/>
<rect x="1871" y="230" width="2" height="1"/>
<rect x="1871" y="263" width="2" height="1"/>
<rect x="1871" y="296" width="2" height="1"/>
<rect x="1871" y="329" width="2" height="1"/>
<rect x="1871" y="361" width="2" height="1"/>
<rect x="1871" y="395" width="2" height="1"/>
<rect x="1871" y="429" width="2" height="1"/>
<rect x="1871" y="463" width="2" height="1"/>
<rect x="1871" y="497" width="2" height="1"/>
<rect x="1871" y="531" width="2" height="1"/>
<rect x="1871" y="565" width="2" height="1"/>
<rect x="1871" y="599" width="2" height="1"/>
<rect x="1871" y="633" width="2" height="1"/>
<rect x="1871" y="667" width="2" height="1"/>
<rect x="1871" y="701" width="2" height="1"/>
<rect x="1871" y="734" width="2" height="1"/>
<rect x="1871" y="741" width="2" height="1"/>
<rect x="1871" y="767" width="2" height="1"/>
<rect x="1871" y="807" width="2" height="1"/>
<rect x="1871" y="848" width="2" height="1"/>
<rect x="1871" y="874" width="2" height="1"/>
<rect x="3" y="876" width="1" height="3"/>
<rect x="67" y="876" width="1" height="3"/>
<rect x="131" y="876" width="1" height="3"/>
<rect x="195" y="876" width="1" height="3"/>
<rect x="259" y="876" width="1" height="3"/>
<rect x="323" y="876" width="1" height="3"/>
<rect x="387" y="876" width="1" height="3"/>
<rect x="451" y="876" width="1" height="3"/>
<rect x="515" y="876" width="1" height="3"/>
<rect x="579" y="876" width="1" height="3"/>
<rect x="643" y="876" width="1" height="3"/>
<rect x="707" y="876" width="1" height="3"/>
<rect x="771" y="876" width="1" height="3"/>
<rect x="835" y="876" width="1" height="3"/>
<rect x="899" y="876" width="1" height="3"/>
<rect x="963" y="876" width="1" height="3"/>
<rect x="1027" y="876" width="1" height="3"/>
<rect x="1091" y="876" width="1" height="3"/>
<rect x="1155" y="876" width="1" height="3"/>
<rect x="1219" y="876" width="1" height="3"/>
<rect x="1283" y="876" width="1" height="3"/>
<rect x="1347" y="876" width="1" height="3"/>
<rect x="1411" y="876" width="1" height="3"/>
<rect x="1475" y="876" width="1" height="3"/>
</g>
<g shape-rendering="crispEdges">
<line x1="4" y1="767.5" x2="1870" y2="767.5" stroke="#c0c0c0" stroke-width="1" stroke-dasharray="3,3"/>
<line x1="4" y1="807.5" x2="1870" y2="807.5" stroke="#c0c0c0" stroke-width="1" stroke-dasharray="3,3"/>
<line x1="4" y1="848.5" x2="1870" y2="848.5" stroke="#c0c0c0" stroke-width="1" stroke-dasharray="3,3"/>
</g>
<polyline points="3,801.5 11,801.5 19,802.1 27,805.1 35,822.2 43,819.5 51,819.5 59,824.5 67,821.5 75,815.8 83,814.1 91,818.2 99,813.5 107,817.5 115,822.2 123,815.5 131,819.2 139,815.5 147,819.2 155,823.2 163,820.5 171,812.8 179,805.5 187,810.8 195,813.1 203,805.5 211,807.5 219,798.5 227,799.8 235,804.1 243,802.5 251,795.1 259,790.4 267,789.4 275,788.4 283,785.4 291,782.4 299,779.4 307,790.4 315,792.4 323,780.7 331,791.1 339,792.4 347,791.4 355,790.4 363,804.1 371,796.4 379,800.8 387,808.8 395,812.1 403,810.1 411,819.5 419,828.2 427,821.2 435,818.5 443,820.5 451,817.5 459,820.5 467,818.5 475,819.2 483,817.2 491,813.1 499,815.2 507,819.2 515,820.5 523,818.5 531,816.5 539,814.1 547,809.5 555,811.1 563,812.5 571,826.5 579,819.5 587,823.2 595,819.5 603,827.8 611,830.2 619,828.2 627,820.5 635,822.5 643,827.2 651,827.5 659,826.5 667,826.5 675,821.5 683,829.2 691,832.9 699,835.2 707,825.5 715,820.5 723,818.5 731,817.5 739,813.5 747,816.5 755,808.5 763,808.5 771,807.5 779,823.2 787,830.2 795,835.2 803,830.5 811,831.2 819,835.2 827,828.5 835,828.2 843,819.5 851,820.5 859,821.5 867,820.2 875,815.5 883,821.2 891,821.2 899,816.8 907,815.5 915,819.2 923,819.2 931,812.1 939,809.5 947,810.5 955,810.5 963,820.2 971,820.2 979,798.5 987,813.1 995,822.2 1003,823.2 1011,824.2 1019,825.2 1027,826.5 1035,829.2 1043,831.2 1051,830.2 1059,830.2 1067,831.2 1075,830.2 1083,818.2 1091,812.5 1099,811.1 1107,800.5 1115,809.1 1123,805.1 1131,794.1 1139,790.4 1147,797.1 1155,799.5 1163,796.4 1171,796.1 1179,785.4 1187,782.4 1195,779.7 1203,778.4 1211,776.4 1219,775.1 1227,779.4 1235,781.4 1243,779.1 1251,775.1 1259,773.1 1267,779.1 1275,791.4 1283,774.4 1291,779.4 1299,787.1 1307,791.4 1315,785.4 1323,777.1 1331,788.4 1339,787.4 1347,787.4 1355,784.1 1363,794.1 1371,813.1 1379,813.1 1387,807.5 1395,812.5 1403,807.5 1411,810.1 1419,811.5 1427,810.1 1435,811.1 1443,813.1 1451,813.1 1459,802.1 1467,806.5 1475,803.5 1483,802.1" fill="none" stroke="#ff0000" stroke-width="1" shape-rendering="crispEdges"/>
<text x="1876.8" y="33" font-size="10.2" fill="#000" textLength="32" lengthAdjust="spacingAndGlyphs">122.155</text>
<text x="1876.8" y="66" font-size="10.2" fill="#000" textLength="32" lengthAdjust="spacingAndGlyphs">122.020</text>
<text x="1876.8" y="99" font-size="10.2" fill="#000" textLength="32" lengthAdjust="spacingAndGlyphs">121.885</text>
<text x="1876.8" y="132" font-size="10.2" fill="#000" textLength="32" lengthAdjust="spacingAndGlyphs">121.745</text>
<text x="1876.8" y="166" font-size="10.2" fill="#000" textLength="32" lengthAdjust="spacingAndGlyphs">121.605</text>
<text x="1876.8" y="200" font-size="10.2" fill="#000" textLength="32" lengthAdjust="spacingAndGlyphs">121.465</text>
<text x="1876.8" y="234" font-size="10.2" fill="#000" textLength="32" lengthAdjust="spacingAndGlyphs">121.325</text>
<text x="1876.8" y="267" font-size="10.2" fill="#000" textLength="32" lengthAdjust="spacingAndGlyphs">121.190</text>
<text x="1876.8" y="300" font-size="10.2" fill="#000" textLength="32" lengthAdjust="spacingAndGlyphs">121.055</text>
<text x="1876.8" y="333" font-size="10.2" fill="#000" textLength="32" lengthAdjust="spacingAndGlyphs">120.920</text>
<text x="1876.8" y="365" font-size="10.2" fill="#000" textLength="32" lengthAdjust="spacingAndGlyphs">120.785</text>
<text x="1876.8" y="399" font-size="10.2" fill="#000" textLength="32" lengthAdjust="spacingAndGlyphs">120.645</text>
<text x="1876.8" y="433" font-size="10.2" fill="#000" textLength="32" lengthAdjust="spacingAndGlyphs">120.505</text>
<text x="1876.8" y="467" font-size="10.2" fill="#000" textLength="32" lengthAdjust="spacingAndGlyphs">120.365</text>
<text x="1876.8" y="501" font-size="10.2" fill="#000" textLength="32" lengthAdjust="spacingAndGlyphs">120.225</text>
<text x="1876.8" y="535" font-size="10.2" fill="#000" textLength="32" lengthAdjust="spacingAndGlyphs">120.085</text>
<text x="1876.8" y="569" font-size="10.2" fill="#000" textLength="32" lengthAdjust="spacingAndGlyphs">119.945</text>
<text x="1876.8" y="603" font-size="10.2" fill="#000" textLength="32" lengthAdjust="spacingAndGlyphs">119.805</text>
<text x="1876.8" y="637" font-size="10.2" fill="#000" textLength="32" lengthAdjust="spacingAndGlyphs">119.665</text>
<text x="1876.8" y="671" font-size="10.2" fill="#000" textLength="32" lengthAdjust="spacingAndGlyphs">119.525</text>
<text x="1876.8" y="705" font-size="10.2" fill="#000" textLength="32" lengthAdjust="spacingAndGlyphs">119.385</text>
<text x="1876.8" y="738" font-size="10.2" fill="#000" textLength="32" lengthAdjust="spacingAndGlyphs">119.250</text>
<text x="1874.6" y="750" font-size="10.2" fill="#000" textLength="14.1" lengthAdjust="spacingAndGlyphs">100</text>
<text x="1874.6" y="771" font-size="10.2" fill="#000" textLength="9.4" lengthAdjust="spacingAndGlyphs">80</text>
<text x="1874.6" y="811" font-size="10.2" fill="#000" textLength="9.4" lengthAdjust="spacingAndGlyphs">50</text>
<text x="1874.6" y="852" font-size="10.2" fill="#000" textLength="9.4" lengthAdjust="spacingAndGlyphs">20</text>
<text x="1874.6" y="872" font-size="10.2" fill="#000" textLength="4.7" lengthAdjust="spacingAndGlyphs">0</text>
<rect x="1872" y="275" width="41" height="11" fill="#ff0000" shape-rendering="crispEdges"/>
<text x="1876.8" y="284" font-size="10.2" fill="#fff" textLength="32" lengthAdjust="spacingAndGlyphs">121.116</text>
<rect x="1872" y="471" width="41" height="11" fill="#ff0000" shape-rendering="crispEdges"/>
<text x="1876.8" y="480" font-size="10.2" fill="#fff" textLength="32" lengthAdjust="spacingAndGlyphs">120.310</text>
<rect x="1872" y="546" width="41" height="11" fill="#ff0000" shape-rendering="crispEdges"/>
<text x="1876.8" y="555" font-size="10.2" fill="#fff" textLength="32" lengthAdjust="spacingAndGlyphs">120.001</text>
<rect x="1872" y="404" width="41" height="11" fill="#000000" shape-rendering="crispEdges"/>
<text x="1876.8" y="413" font-size="10.2" fill="#fff" textLength="32" lengthAdjust="spacingAndGlyphs">120.588</text>
<text x="2.8" y="888" font-size="10.2" fill="#000" textLength="49" lengthAdjust="spacingAndGlyphs">12 Jun 2020</text>
<text x="66.8" y="888" font-size="10.2" fill="#000" textLength="52" lengthAdjust="spacingAndGlyphs">12 Jun 21:00</text>
<text x="130.8" y="888" font-size="10.2" fill="#000" textLength="52" lengthAdjust="spacingAndGlyphs">15 Jun 05:00</text>
<text x="194.8" y="888" font-size="10.2" fill="#000" textLength="52" lengthAdjust="spacingAndGlyphs">15 Jun 13:00</text>
<text x="258.8" y="888" font-size="10.2" fill="#000" textLength="52" lengthAdjust="spacingAndGlyphs">15 Jun 21:00</text>
<text x="322.8" y="888" font-size="10.2" fill="#000" textLength="52" lengthAdjust="spacingAndGlyphs">16 Jun 05:00</text>
<text x="386.8" y="888" font-size="10.2" fill="#000" textLength="52" lengthAdjust="spacingAndGlyphs">16 Jun 13:00</text>
<text x="450.8" y="888" font-size="10.2" fill="#000" textLength="52" lengthAdjust="spacingAndGlyphs">16 Jun 21:00</text>
<text x="514.8" y="888" font-size="10.2" fill="#000" textLength="52" lengthAdjust="spacingAndGlyphs">17 Jun 05:00</text>
<text x="578.8" y="888" font-size="10.2" fill="#000" textLength="52" lengthAdjust="spacingAndGlyphs">17 Jun 13:00</text>
<text x="642.8" y="888" font-size="10.2" fill="#000" textLength="52" lengthAdjust="spacingAndGlyphs">17 Jun 21:00</text>
<text x="706.8" y="888" font-size="10.2" fill="#000" textLength="52" lengthAdjust="spacingAndGlyphs">18 Jun 05:00</text>
<text x="770.8" y="888" font-size="10.2" fill="#000" textLength="52" lengthAdjust="spacingAndGlyphs">18 Jun 13:00</text>
<text x="834.8" y="888" font-size="10.2" fill="#000" textLength="52" lengthAdjust="spacingAndGlyphs">18 Jun 21:00</text>
<text x="898.8" y="888" font-size="10.2" fill="#000" textLength="52" lengthAdjust="spacingAndGlyphs">19 Jun 05:00</text>
<text x="962.8" y="888" font-size="10.2" fill="#000" textLength="52" lengthAdjust="spacingAndGlyphs">19 Jun 13:00</text>
<text x="1026.8" y="888" font-size="10.2" fill="#000" textLength="52" lengthAdjust="spacingAndGlyphs">19 Jun 21:00</text>
<text x="1090.8" y="888" font-size="10.2" fill="#000" textLength="52" lengthAdjust="spacingAndGlyphs">22 Jun 05:00</text>
<text x="1154.8" y="888" font-size="10.2" fill="#000" textLength="52" lengthAdjust="spacingAndGlyphs">22 Jun 13:00</text>
<text x="1218.8" y="888" font-size="10.2" fill="#000" textLength="52" lengthAdjust="spacingAndGlyphs">22 Jun 21:00</text>
<text x="1282.8" y="888" font-size="10.2" fill="#000" textLength="52" lengthAdjust="spacingAndGlyphs">23 Jun 05:00</text>
<text x="1346.8" y="888" font-size="10.2" fill="#000" textLength="52" lengthAdjust="spacingAndGlyphs">23 Jun 13:00</text>
<text x="1410.8" y="888" font-size="10.2" fill="#000" textLength="52" lengthAdjust="spacingAndGlyphs">23 Jun 21:00</text>
<text x="1474.8" y="888" font-size="10.2" fill="#000" textLength="52" lengthAdjust="spacingAndGlyphs">24 Jun 05:00</text>
<path d="M6 9.6 L13.2 9.6 L9.6 13.4 Z" fill="#000"/>
<text x="18.5" y="14" font-size="10.2" fill="#000" textLength="49.2" lengthAdjust="spacingAndGlyphs">EURJPY,H1</text>
<text x="74.8" y="14" font-size="10.2" fill="#000" textLength="32" lengthAdjust="spacingAndGlyphs">120.571</text>
<text x="110.7" y="14" font-size="10.2" fill="#000" textLength="32" lengthAdjust="spacingAndGlyphs">120.618</text>
<text x="146.6" y="14" font-size="10.2" fill="#000" textLength="32" lengthAdjust="spacingAndGlyphs">120.551</text>
<text x="182.6" y="14" font-size="10.2" fill="#000" textLength="32" lengthAdjust="spacingAndGlyphs">120.588</text>
<text x="7.3" y="752" font-size="10.2" fill="#000" textLength="67.4" lengthAdjust="spacingAndGlyphs">RSI(14) 54.1435</text>
<text x="814.8" y="35.5" font-size="20.3" font-weight="bold" fill="#000" textLength="83.8" lengthAdjust="spacingAndGlyphs">EUR/JPY</text>
<text x="905.2" y="35.5" font-size="20.3" font-weight="bold" fill="#000" textLength="65.1" lengthAdjust="spacingAndGlyphs">Hourly</text>
<text x="977" y="35.5" font-size="20.3" font-weight="bold" fill="#000" textLength="53.8" lengthAdjust="spacingAndGlyphs">Chart</text>
<text x="1584.9" y="329" font-size="21.4" font-weight="bold" fill="#ee1438" textLength="105.2" lengthAdjust="spacingAndGlyphs">Resistance</text>
<text x="1696" y="329" font-size="21.4" font-weight="bold" fill="#ee1438" textLength="46.6" lengthAdjust="spacingAndGlyphs">Area</text>
<text x="1575.4" y="467.5" font-size="19.6" font-weight="bold" fill="#22902c" textLength="79.4" lengthAdjust="spacingAndGlyphs">Support</text>
<text x="1661.2" y="467.5" font-size="19.6" font-weight="bold" fill="#22902c" textLength="9.9" lengthAdjust="spacingAndGlyphs">1</text>
<text x="1578.5" y="544.5" font-size="19.6" font-weight="bold" fill="#22902c" textLength="79.4" lengthAdjust="spacingAndGlyphs">Support</text>
<text x="1664" y="544.5" font-size="19.6" font-weight="bold" fill="#22902c" textLength="10.5" lengthAdjust="spacingAndGlyphs">2</text>
</svg></body></html>
